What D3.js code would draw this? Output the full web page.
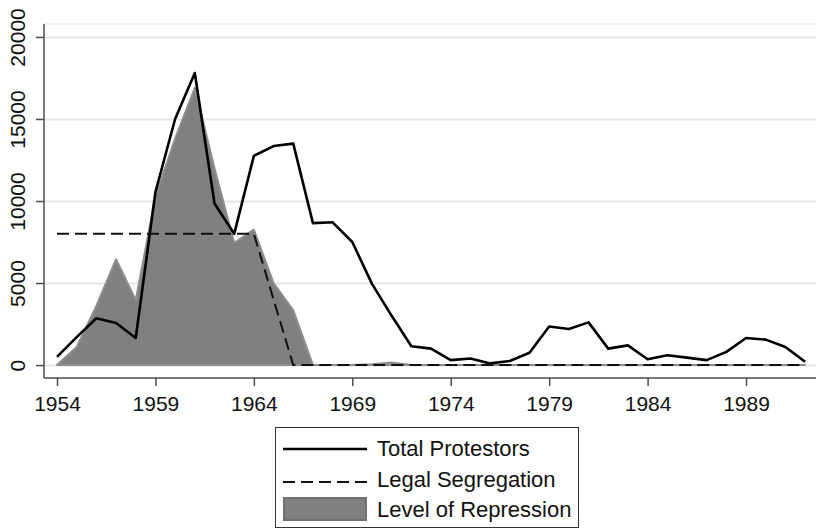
<!DOCTYPE html>
<html>
<head>
<meta charset="utf-8">
<script src="https://cdn.jsdelivr.net/npm/d3@7"></script>
<style>
    body { margin: 0; background: #ffffff; }
    svg { display: block; }
    text { font-family: "Liberation Sans", Arial, sans-serif; fill: #111111; }
</style>
</head>
<body>
<svg id="canvas" width="816" height="530"></svg>
<script>
var years = d3.range(1954, 1993);
var totalProtestors = [500, 1700, 2850, 2560, 1650, 10550, 15000, 17800, 9850, 8000,
    12750, 13350, 13500, 8650, 8700, 7500, 4950, 3000, 1150, 1000,
    300, 400, 100, 250, 750, 2350, 2200, 2600, 1000, 1200,
    350, 600, 450, 300, 800, 1650, 1550, 1100, 200];
var legalSegregation = [8000, 8000, 8000, 8000, 8000, 8000, 8000, 8000, 8000, 8000,
    8000, 4000, 0, 0, 0, 0, 0, 0, 0, 0,
    0, 0, 0, 0, 0, 0, 0, 0, 0, 0,
    0, 0, 0, 0, 0, 0, 0, 0, 0];
var repression = [0, 1100, 3600, 6450, 3950, 10300, 13800, 16900, 12000, 7450,
    8250, 5000, 3350, 0, 0, 0, 50, 150, 0, 0,
    0, 0, 0, 0, 0, 0, 0, 0, 0, 0,
    0, 0, 0, 0, 0, 0, 0, 0, 0];
var xTicks = [1954, 1959, 1964, 1969, 1974, 1979, 1984, 1989];
var yTicks = [0, 5000, 10000, 15000, 20000];
var legendLabels = ['Total Protestors', 'Legal Segregation', 'Level of Repression'];

(function() {
    var svg = d3.select('#canvas');
    var left = 44, right = 816, top = 24, bottom = 378;

    var x = d3.scaleLinear().domain([1954, 1992]).range([57, 805.1]);
    var y = d3.scaleLinear().domain([-790, 20790]).range([bottom, top]);

    var rows = years.map(function(yr, i) {
        return { year: yr, total: totalProtestors[i], legal: legalSegregation[i], rep: repression[i] };
    });

    // plot region top border and grid
    svg.append('line')
        .attr('x1', left).attr('x2', right)
        .attr('y1', top).attr('y2', top)
        .attr('stroke', '#eeeeee')
        .attr('stroke-width', 1.5);

    svg.append('g')
        .attr('transform', 'translate(' + left + ',0)')
        .call(d3.axisLeft(y).tickValues(yTicks).tickSize(-(right - left)).tickFormat(''))
        .call(function(g) {
            g.select('.domain').remove();
            g.selectAll('.tick line').attr('stroke', '#e6e6e6').attr('stroke-width', 2);
        });

    // repression area
    var area = d3.area()
        .x(function(d) { return x(d.year); })
        .y0(y(0))
        .y1(function(d) { return y(d.rep); });

    svg.append('path')
        .datum(rows)
        .attr('d', area)
        .attr('fill', '#808080')
        .attr('stroke', '#8e8e8e')
        .attr('stroke-width', 2)
        .attr('stroke-linejoin', 'round');

    var totalLine = d3.line()
        .x(function(d) { return x(d.year); })
        .y(function(d) { return y(d.total); });

    svg.append('path')
        .datum(rows)
        .attr('d', totalLine)
        .attr('fill', 'none')
        .attr('stroke', '#000000')
        .attr('stroke-width', 2.6)
        .attr('stroke-linejoin', 'round');

    var legalLine = d3.line()
        .x(function(d) { return x(d.year); })
        .y(function(d) { return y(d.legal); });

    svg.append('path')
        .datum(rows)
        .attr('d', legalLine)
        .attr('fill', 'none')
        .attr('stroke', '#111111')
        .attr('stroke-width', 2)
        .attr('stroke-dasharray', '12,6');

    // axes
    var yAxis = svg.append('g')
        .attr('transform', 'translate(' + left + ',0)')
        .call(d3.axisLeft(y).tickValues(yTicks).tickSize(8).tickFormat(d3.format('d')));
    yAxis.select('.domain').remove();
    yAxis.selectAll('.tick line').attr('stroke', '#4d4d4d').attr('stroke-width', 1.5);
    yAxis.selectAll('.tick text')
        .attr('x', 0)
        .attr('y', -19)
        .attr('dy', null)
        .attr('transform', 'rotate(-90)')
        .attr('text-anchor', 'middle')
        .style('font-size', '21px')
        .attr('fill', '#111111')
        .attr('font-family', null);

    var xAxis = svg.append('g')
        .attr('transform', 'translate(0,' + bottom + ')')
        .call(d3.axisBottom(x).tickValues(xTicks).tickSize(8).tickFormat(d3.format('d')));
    xAxis.select('.domain').remove();
    xAxis.selectAll('.tick line').attr('stroke', '#4d4d4d').attr('stroke-width', 1.5);
    xAxis.selectAll('.tick text')
        .attr('y', 33)
        .attr('dy', null)
        .style('font-size', '21px')
        .attr('fill', '#111111')
        .attr('font-family', null);

    svg.append('line')
        .attr('x1', left).attr('x2', left)
        .attr('y1', top).attr('y2', bottom)
        .attr('stroke', '#4d4d4d').attr('stroke-width', 1.5);
    svg.append('line')
        .attr('x1', left).attr('x2', right)
        .attr('y1', bottom).attr('y2', bottom)
        .attr('stroke', '#4d4d4d').attr('stroke-width', 1.5);

    // legend
    var lg = svg.append('g').attr('transform', 'translate(275,427)');
    lg.append('rect')
        .attr('x', 0.5).attr('y', 0.5)
        .attr('width', 303).attr('height', 100)
        .attr('fill', '#ffffff')
        .attr('stroke', '#333333')
        .attr('stroke-width', 1);

    lg.append('line')
        .attr('x1', 8).attr('x2', 92).attr('y1', 22).attr('y2', 22)
        .attr('stroke', '#000000').attr('stroke-width', 2.6);
    lg.append('line')
        .attr('x1', 8).attr('x2', 92).attr('y1', 55).attr('y2', 55)
        .attr('stroke', '#111111').attr('stroke-width', 2).attr('stroke-dasharray', '12,6');
    lg.append('rect')
        .attr('x', 9).attr('y', 71).attr('width', 82).attr('height', 22)
        .attr('fill', '#808080').attr('stroke', '#707070').attr('stroke-width', 2);

    lg.selectAll('text.item')
        .data(legendLabels)
        .enter().append('text')
        .attr('class', 'item')
        .attr('x', 102)
        .attr('y', function(d, i) { return 29 + i * 30.5; })
        .style('font-size', '22px')
        .text(function(d) { return d; });
})();
</script>
</body>
</html>
